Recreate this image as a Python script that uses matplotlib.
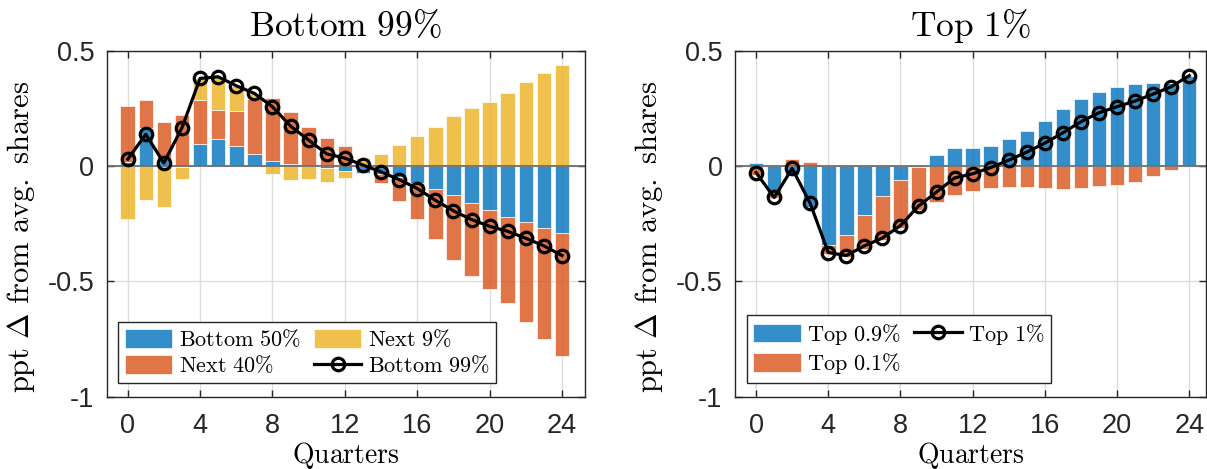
import numpy as np
import matplotlib
matplotlib.use("Agg")
import matplotlib.pyplot as plt

plt.rcParams['mathtext.fontset'] = 'cm'

quarters = np.arange(25)

# left panel: decomposition of the bottom 99%
bottom50 = [0.02, 0.167, 0.033, -0.005, 0.097, 0.119, 0.088, 0.053, 0.022, 0.01, 0.002, -0.009, -0.02,
            -0.029, -0.035, -0.049, -0.075, -0.1, -0.126, -0.158, -0.191, -0.219, -0.243, -0.27, -0.291]
next40 = [0.24, 0.119, 0.16, 0.223, 0.191, 0.124, 0.151, 0.237, 0.275, 0.226, 0.168, 0.122, 0.088,
          0.0, -0.04, -0.102, -0.153, -0.217, -0.283, -0.32, -0.344, -0.377, -0.434, -0.479, -0.535]
next9 = [-0.23, -0.148, -0.177, -0.052, 0.093, 0.145, 0.11, 0.026, -0.035, -0.06, -0.057, -0.059, -0.032,
         0.034, 0.053, 0.091, 0.132, 0.172, 0.216, 0.251, 0.278, 0.316, 0.364, 0.406, 0.439]
bottom99 = [0.03, 0.138, 0.014, 0.167, 0.381, 0.388, 0.349, 0.316, 0.258, 0.174, 0.113, 0.053, 0.035,
            0.005, -0.025, -0.058, -0.097, -0.148, -0.194, -0.232, -0.261, -0.283, -0.313, -0.346, -0.388]

# right panel: decomposition of the top 1%
top09 = [0.015, -0.11, -0.04, -0.177, -0.343, -0.3, -0.213, -0.129, -0.062, -0.002, 0.048, 0.077, 0.077,
         0.089, 0.119, 0.153, 0.195, 0.247, 0.291, 0.32, 0.343, 0.355, 0.361, 0.36, 0.392]
top01 = [-0.04, -0.027, 0.03, 0.016, -0.037, -0.094, -0.145, -0.193, -0.206, -0.187, -0.155, -0.127, -0.109,
         -0.093, -0.091, -0.091, -0.094, -0.1, -0.096, -0.087, -0.081, -0.07, -0.043, -0.015, 0.002]
top1 = [-0.028, -0.136, -0.01, -0.162, -0.375, -0.388, -0.346, -0.312, -0.258, -0.173, -0.112, -0.051, -0.033,
        -0.006, 0.026, 0.061, 0.1, 0.145, 0.193, 0.232, 0.258, 0.283, 0.313, 0.345, 0.393]

xticks = [0, 4, 8, 12, 16, 20, 24]
yticks = [-1, -0.5, 0, 0.5]
ytick_labels = ['-1', '-0.5', '0', '0.5']

colors = ['#0072BD', '#D95319', '#EDB120']
axcol = '#262626'
W, H = 1207, 469


def stacked_bars(ax, series, labels):
    pos = np.zeros(len(quarters))
    neg = np.zeros(len(quarters))
    handles = []
    for vals, col, lab in zip(series, colors, labels):
        vals = np.asarray(vals)
        base = np.where(vals >= 0, pos, neg)
        h = ax.bar(quarters, vals, 0.8, bottom=base, color=col, alpha=0.8,
                   edgecolor='white', linewidth=0.6, label=lab, zorder=2)
        pos = pos + np.where(vals >= 0, vals, 0)
        neg = neg + np.where(vals < 0, vals, 0)
        handles.append(h)
    return handles


def style_axes(ax, title, xlim, ylab_x):
    ax.set_xlim(*xlim)
    ax.set_ylim(-1, 0.5)
    ax.set_xticks(xticks)
    ax.set_xticklabels([str(t) for t in xticks], fontfamily='Liberation Sans', fontsize=19.5, color=axcol)
    ax.set_yticks(yticks)
    ax.set_yticklabels(ytick_labels, fontfamily='Liberation Sans', fontsize=19.5, color=axcol)
    ax.tick_params(direction='in', length=5, width=1, color=axcol, top=True, right=True)
    ax.tick_params(axis='y', pad=9)
    ax.tick_params(axis='x', pad=12)
    ax.grid(True, color='#dcdcdc', linewidth=1, zorder=0)
    ax.set_axisbelow(True)
    for s in ax.spines.values():
        s.set_color(axcol)
        s.set_linewidth(1)
    ax.axhline(0, color='#6e6e6e', linewidth=1.3, zorder=2.5)
    ax.set_title(title, fontsize=25.5, pad=11)
    ax.set_xlabel(r'$\mathrm{Quarters}$', fontsize=20)
    ax.xaxis.set_label_coords(0.5, -0.127)
    ax.set_ylabel(r'$\mathrm{ppt}\ \Delta\ \mathrm{from\ avg.\ shares}$', fontsize=22)
    ax.yaxis.set_label_coords(ylab_x, 0.462)


def make_legend(ax, handles, anchor):
    leg = ax.legend(handles=handles, ncol=2, loc='lower left', bbox_to_anchor=anchor,
                    borderaxespad=0, fontsize=16, fancybox=False, edgecolor=axcol, framealpha=1,
                    handlelength=2.15, handleheight=0.9, handletextpad=0.28, columnspacing=0.6,
                    labelspacing=0.2, borderpad=0.3)
    leg.get_frame().set_linewidth(1)
    return leg


fig = plt.figure(figsize=(W / 100, H / 100), dpi=100)
ax1 = fig.add_axes([106.7 / W, 1 - 396.5 / H, (585 - 106.7) / W, 345.5 / H])
ax2 = fig.add_axes([735 / W, 1 - 396.5 / H, (1206 - 735) / W, 345.5 / H])

# left panel
bars1 = stacked_bars(ax1, [bottom50, next40, next9],
                     [r'$\mathrm{Bottom\ 50\%}$', r'$\mathrm{Next\ 40\%}$', r'$\mathrm{Next\ 9\%}$'])
line1, = ax1.plot(quarters, bottom99, '-o', color='black', linewidth=2.3, markersize=9,
                  markerfacecolor='none', markeredgewidth=2.3, zorder=3, label=r'$\mathrm{Bottom\ 99\%}$')
style_axes(ax1, r'$\mathrm{Bottom\ 99\%}$', (-1.16, 25.27), -0.146)
make_legend(ax1, bars1 + [line1], (0.0236, 0.039))

# right panel
bars2 = stacked_bars(ax2, [top09, top01], [r'$\mathrm{Top\ 0.9\%}$', r'$\mathrm{Top\ 0.1\%}$'])
line2, = ax2.plot(quarters, top1, '-o', color='black', linewidth=2.3, markersize=9,
                  markerfacecolor='none', markeredgewidth=2.3, zorder=3, label=r'$\mathrm{Top\ 1\%}$')
style_axes(ax2, r'$\mathrm{Top\ 1\%}$', (-1.17, 24.93), -0.148)
make_legend(ax2, [bars2[0], bars2[1], line2], (0.025, 0.039))

fig.savefig('out.png', dpi=100)
